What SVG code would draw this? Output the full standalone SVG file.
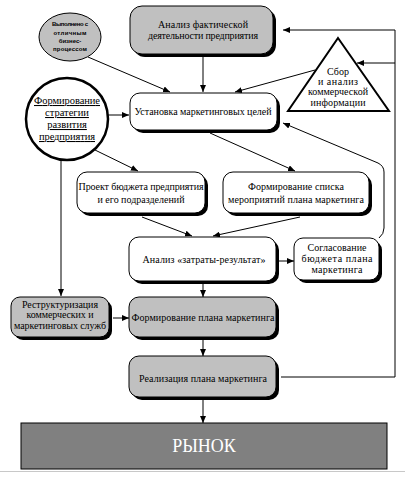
<svg xmlns="http://www.w3.org/2000/svg" width="405" height="483" viewBox="0 0 405 483">
<defs>
<style>
.t{font-family:"Times New Roman","Liberation Serif",Tinos,serif;font-size:10px;fill:#000;text-anchor:middle}
.box{stroke:#000;stroke-width:1}
.sh{fill:#000}
.w{fill:#fff}
.g{fill:#c0c0c0}
.c{fill:none;stroke:#000;stroke-width:1}
</style>
<marker id="a" markerWidth="7" markerHeight="6" refX="7" refY="3" orient="auto" markerUnits="userSpaceOnUse">
<path d="M0,0 L7,3 L0,6 Z" fill="#000"/>
</marker>
</defs>
<rect width="405" height="483" fill="#fff"/>
<line x1="0" y1="471.5" x2="405" y2="471.5" stroke="#c8c8c8" stroke-width="1"/>

<g id="connectors">
<path class="c" d="M88,57 L170,92" marker-end="url(#a)"/>
<path class="c" d="M203,57 L203,92" marker-end="url(#a)"/>
<path class="c" d="M315,70 L235,92" marker-end="url(#a)"/>
<path class="c" d="M108,115 L129,115" marker-end="url(#a)"/>
<path class="c" d="M95,150 L138,171" marker-end="url(#a)"/>
<path class="c" d="M210,133 L295,171" marker-end="url(#a)"/>
<path class="c" d="M142,217 L192,236" marker-end="url(#a)"/>
<path class="c" d="M300,217 L213,236" marker-end="url(#a)"/>
<path class="c" d="M279,261 L294,261" marker-end="url(#a)"/>
<path class="c" d="M379,238 Q384,234 384,228 L384,172 Q384,166 378,163 L283,123" marker-end="url(#a)"/>
<path class="c" d="M61,160 L61,296" marker-end="url(#a)"/>
<path class="c" d="M203,283 L203,297" marker-end="url(#a)"/>
<path class="c" d="M113,318 L129,318" marker-end="url(#a)"/>
<path class="c" d="M203,340 L203,356" marker-end="url(#a)"/>
<path class="c" d="M203,400 L203,423" marker-end="url(#a)"/>
<path class="c" d="M281,377 L395,377 L395,30 L283,30" marker-end="url(#a)"/>
<path class="c" d="M395,63 L357,63" marker-end="url(#a)"/>
</g>

<g id="n-process">
<ellipse cx="70" cy="37" rx="31" ry="24" fill="#c0c0c0" stroke="#000" stroke-width="1"/>
<g font-family="Liberation Sans, DejaVu Sans, Arial, sans-serif" font-size="6" font-weight="bold" text-anchor="middle">
<text x="70" y="26" textLength="36">Выполнено с</text>
<text x="70" y="35" textLength="33">отличным</text>
<text x="70" y="43">бизнес-</text>
<text x="70" y="51" textLength="34">процессом</text>
</g>
</g>

<g id="n-analysis-fact">
<rect class="sh" x="133" y="9" width="143" height="48" rx="12"/>
<rect class="box g" x="130" y="6" width="143" height="48" rx="12"/>
<text class="t" x="203" y="28" textLength="90">Анализ фактической</text>
<text class="t" x="203" y="39" textLength="110">деятельности предприятия</text>
</g>

<g id="n-strategy">
<ellipse cx="67" cy="119" rx="41" ry="41" fill="#fff" stroke="#000" stroke-width="2.5"/>
<g class="t" style="text-decoration:underline;font-size:10.5px">
<text x="67" y="104" textLength="66">Формирование</text>
<text x="67" y="116">стратегии</text>
<text x="67" y="128">развития</text>
<text x="67" y="140" textLength="56">предприятия</text>
</g>
</g>

<g id="n-info">
<polygon points="338,38 389,111 288,111" fill="#fff" stroke="#000" stroke-width="2"/>
<text class="t" x="338" y="75">Сбор</text>
<text class="t" x="338" y="85" textLength="40">и анализ</text>
<text class="t" x="338" y="95" textLength="60">коммерческой</text>
<text class="t" x="338" y="106" textLength="55">информации</text>
</g>

<g id="n-goals">
<rect class="sh" x="133" y="96" width="147" height="37" rx="10"/>
<rect class="box w" x="130" y="93" width="147" height="37" rx="10"/>
<text class="t" x="203" y="115" textLength="137">Установка маркетинговых целей</text>
</g>

<g id="n-budget">
<rect class="sh" x="80" y="175" width="128" height="41" rx="10"/>
<rect class="box w" x="77" y="172" width="128" height="41" rx="10"/>
<text class="t" x="141" y="190" textLength="125">Проект бюджета предприятия</text>
<text class="t" x="141" y="203" textLength="87">и его подразделений</text>
</g>

<g id="n-list">
<rect class="sh" x="226" y="175" width="146" height="41" rx="10"/>
<rect class="box w" x="223" y="172" width="146" height="41" rx="10"/>
<text class="t" x="296" y="190" textLength="96">Формирование списка</text>
<text class="t" x="296" y="203" textLength="136">мероприятий плана маркетинга</text>
</g>

<g id="n-cost">
<rect class="sh" x="132" y="240" width="147" height="44" rx="10"/>
<rect class="box w" x="129" y="237" width="147" height="44" rx="10"/>
<text class="t" x="204" y="263" textLength="123">Анализ «затраты-результат»</text>
</g>

<g id="n-approve">
<rect class="sh" x="297" y="241" width="85" height="42" rx="9"/>
<rect class="box w" x="294" y="238" width="85" height="42" rx="9"/>
<text class="t" x="337" y="251" textLength="59">Согласование</text>
<text class="t" x="337" y="262" textLength="71">бюджета плана</text>
<text class="t" x="337" y="273" textLength="51">маркетинга</text>
</g>

<g id="n-restructure">
<rect class="sh" x="14" y="300" width="98" height="40" rx="9"/>
<rect class="box g" x="11" y="297" width="98" height="40" rx="9"/>
<text class="t" x="60" y="308" textLength="76">Реструктуризация</text>
<text class="t" x="60" y="318" textLength="67">коммерческих и</text>
<text class="t" x="60" y="329" textLength="92">маркетинговых служб</text>
</g>

<g id="n-plan">
<rect class="sh" x="132" y="300" width="147" height="40" rx="10"/>
<rect class="box g" x="129" y="297" width="147" height="40" rx="10"/>
<text class="t" x="203" y="321" textLength="143">Формирование плана маркетинга</text>
</g>

<g id="n-realize">
<rect class="sh" x="132" y="359" width="147" height="41" rx="10"/>
<rect class="box g" x="129" y="356" width="147" height="41" rx="10"/>
<text class="t" x="203" y="382" textLength="128">Реализация плана маркетинга</text>
</g>

<g id="n-market">
<rect x="21" y="423" width="366" height="46" fill="#808080" stroke="#000" stroke-width="1"/>
<text x="204" y="452" font-family="Times New Roman, Liberation Serif, serif" font-size="18" fill="#fff" text-anchor="middle">РЫНОК</text>
</g>
</svg>
